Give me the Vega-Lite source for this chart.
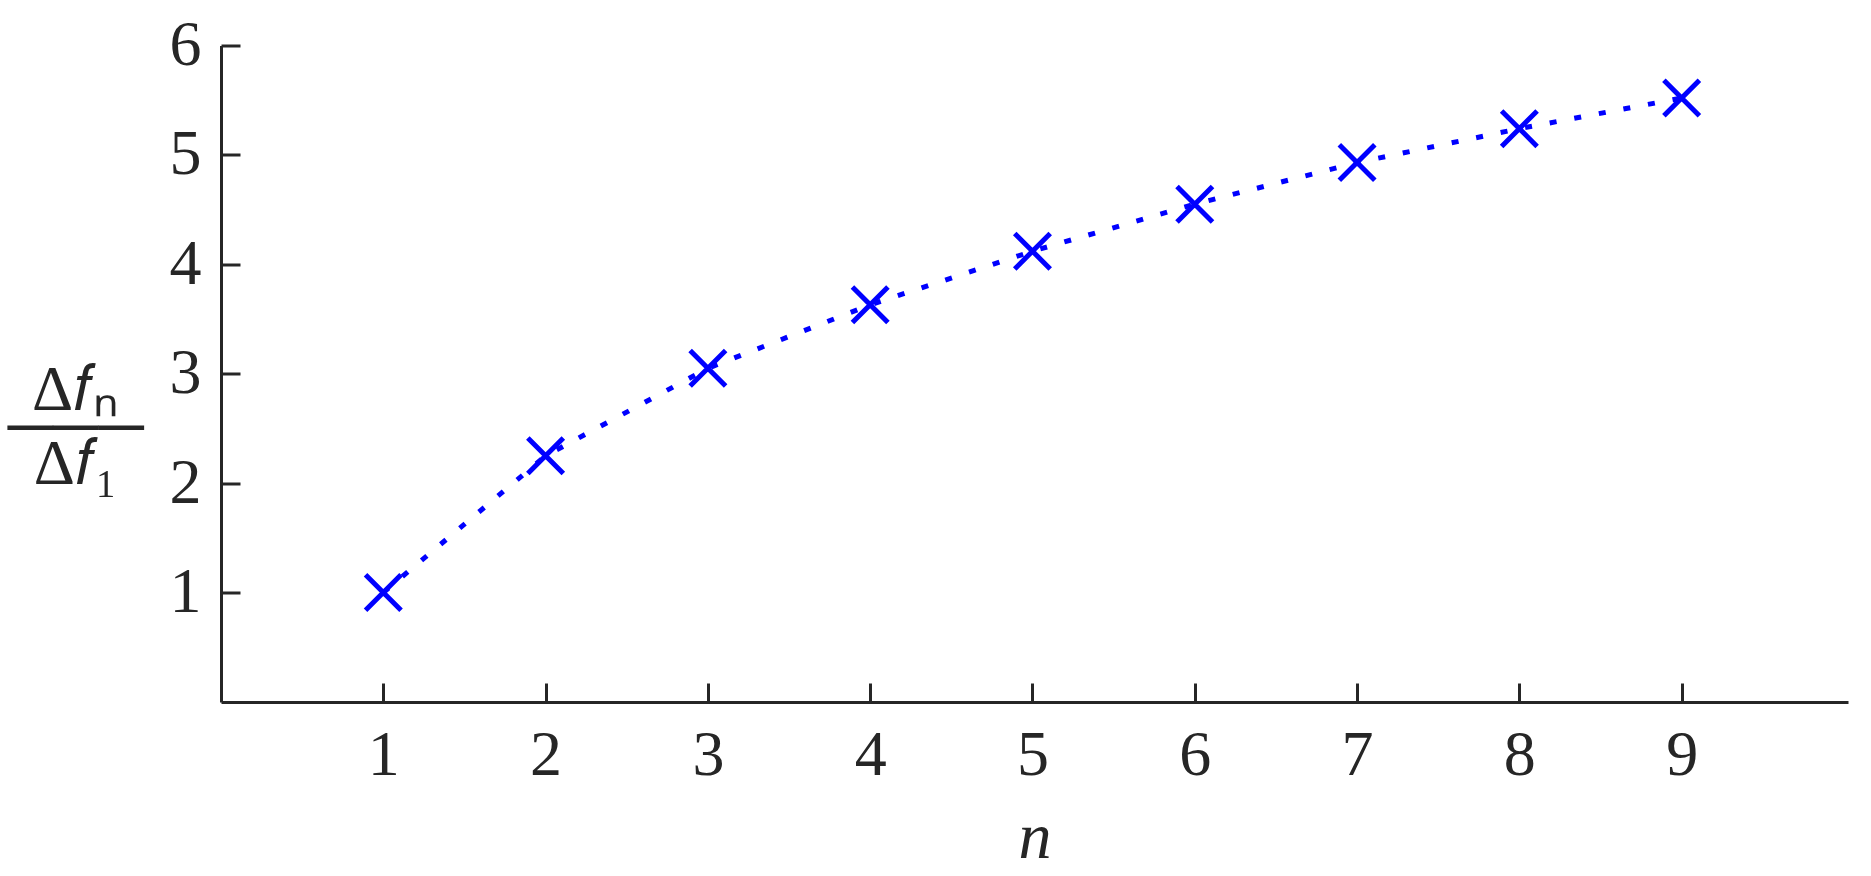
{
  "$schema": "https://vega.github.io/schema/vega-lite/v6.json",
  "autosize": {"type": "none"},
  "width": 1627,
  "height": 656.5,
  "padding": {"left": 221, "top": 45.5, "right": 23, "bottom": 174},
  "background": "white",
  "config": {
    "view": {"stroke": null},
    "axis": {
      "grid": false,
      "domainColor": "#262626",
      "domainWidth": 3,
      "tickColor": "#262626",
      "tickWidth": 3,
      "tickSize": -19,
      "labelFont": "Liberation Serif",
      "labelFontSize": 64,
      "labelColor": "#262626",
      "titleFont": "Liberation Serif",
      "titleFontWeight": "normal",
      "titleColor": "#262626"
    }
  },
  "data": {
    "values": [
      {"n": 1, "ratio": 1.0},
      {"n": 2, "ratio": 2.25},
      {"n": 3, "ratio": 3.05},
      {"n": 4, "ratio": 3.63},
      {"n": 5, "ratio": 4.12},
      {"n": 6, "ratio": 4.55},
      {"n": 7, "ratio": 4.93},
      {"n": 8, "ratio": 5.24},
      {"n": 9, "ratio": 5.52}
    ]
  },
  "encoding": {
    "x": {
      "field": "n",
      "type": "quantitative",
      "scale": {"domain": [0, 10.025], "nice": false, "zero": false},
      "axis": {
        "values": [1, 2, 3, 4, 5, 6, 7, 8, 9],
        "labelPadding": 40,
        "title": "n",
        "titleFontStyle": "italic",
        "titleFontSize": 66,
        "titleBaseline": "alphabetic",
        "titleY": 155
      }
    },
    "y": {
      "field": "ratio",
      "type": "quantitative",
      "scale": {"domain": [0, 6], "nice": false},
      "axis": {
        "values": [1, 2, 3, 4, 5, 6],
        "labelPadding": 39,
        "title": ["Δ𝑓ₙ", "───", "Δ𝑓₁"],
        "titleAngle": 0,
        "titleAlign": "center",
        "titleBaseline": "middle",
        "titleX": -146,
        "titleY": 345,
        "titleFontSize": 64,
        "titleLineHeight": 37
      }
    }
  },
  "layer": [
    {
      "mark": {"type": "line", "color": "#0000ff", "strokeWidth": 5, "strokeDash": [7, 18]}
    },
    {
      "mark": {
        "type": "point",
        "shape": "M-1,-1L1,1M-1,1L1,-1",
        "filled": false,
        "stroke": "#0000ff",
        "strokeWidth": 5,
        "size": 1260,
        "opacity": 1
      }
    }
  ]
}
